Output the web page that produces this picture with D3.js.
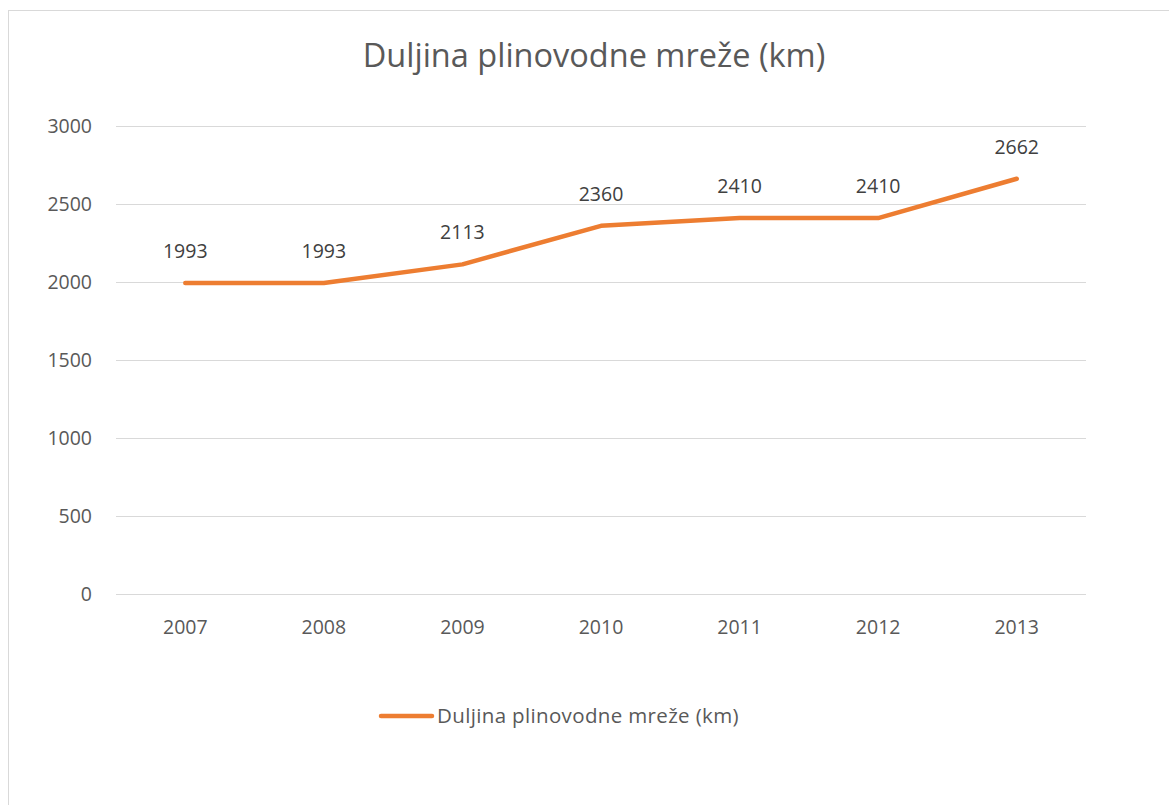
<!DOCTYPE html>
<html>
<head>
<meta charset="utf-8">
<script src="https://cdn.jsdelivr.net/npm/d3@7"></script>
<style>
  body { margin: 0; background: #fff; }
  svg { display: block; font-family: "Open Sans", sans-serif; }
</style>
</head>
<body>
<div id="chart"></div>
<script>
const years = ["2007", "2008", "2009", "2010", "2011", "2012", "2013"];
const lengths = [1993, 1993, 2113, 2360, 2410, 2410, 2662];
const yTicks = [0, 500, 1000, 1500, 2000, 2500, 3000];
const seriesName = "Duljina plinovodne mreže (km)";

const width = 1169, height = 805;
const margin = { top: 126, right: 83, bottom: 211, left: 116 };
const fontSize = "19.5px";

const svg = d3.select("#chart").append("svg")
    .attr("width", width)
    .attr("height", height);

// chart frame
svg.append("rect")
    .attr("x", 8.5).attr("y", 10.5)
    .attr("width", 1200).attr("height", 900)
    .attr("fill", "none")
    .attr("stroke", "#d9d9d9")
    .attr("stroke-width", 1);

svg.append("text")
    .attr("x", 594).attr("y", 67)
    .attr("text-anchor", "middle")
    .attr("fill", "#595959")
    .style("font-size", "32.5px")
    .text(seriesName);

const x = d3.scaleBand()
    .domain(years)
    .range([margin.left, width - margin.right]);

const y = d3.scaleLinear()
    .domain([0, 3000])
    .range([height - margin.bottom, margin.top]);

// gridlines
svg.append("g")
    .selectAll("line")
    .data(yTicks)
    .join("line")
    .attr("x1", margin.left).attr("x2", width - margin.right)
    .attr("y1", d => Math.round(y(d)) + 0.5)
    .attr("y2", d => Math.round(y(d)) + 0.5)
    .attr("stroke", "#d9d9d9")
    .attr("stroke-width", 1);

const yAxis = d3.axisLeft(y).tickValues(yTicks).tickFormat(d3.format("d")).tickSize(0).tickPadding(24);
svg.append("g")
    .attr("transform", `translate(${margin.left},0)`)
    .call(yAxis)
    .call(g => g.select(".domain").remove())
    .call(g => g.selectAll("text").attr("fill", "#595959").style("font-size", fontSize).style("font-family", "Open Sans"));

const xAxis = d3.axisBottom(x).tickSize(0).tickPadding(26);
svg.append("g")
    .attr("transform", `translate(0,${height - margin.bottom})`)
    .call(xAxis)
    .call(g => g.select(".domain").remove())
    .call(g => g.selectAll("text").attr("fill", "#595959").style("font-size", fontSize).style("font-family", "Open Sans"));

const line = d3.line()
    .x((d, i) => x(years[i]) + x.bandwidth() / 2)
    .y(d => y(d));

svg.append("path")
    .datum(lengths)
    .attr("fill", "none")
    .attr("stroke", "#ed7d31")
    .attr("stroke-width", 4.5)
    .attr("stroke-linejoin", "round")
    .attr("stroke-linecap", "round")
    .attr("d", line);

svg.append("g")
    .selectAll("text")
    .data(lengths)
    .join("text")
    .attr("x", (d, i) => x(years[i]) + x.bandwidth() / 2)
    .attr("y", d => y(d) - 25)
    .attr("text-anchor", "middle")
    .attr("fill", "#404040")
    .style("font-size", fontSize)
    .text(d => d);

// legend
const legend = svg.append("g").attr("transform", "translate(381,716)");
legend.append("line")
    .attr("x1", 0).attr("x2", 51)
    .attr("stroke", "#ed7d31")
    .attr("stroke-width", 4.5)
    .attr("stroke-linecap", "round");
legend.append("text")
    .attr("x", 56).attr("y", 0)
    .attr("dy", "0.35em")
    .attr("fill", "#595959")
    .style("font-size", "20.5px")
    .style("letter-spacing", "0.35px")
    .text(seriesName);
</script>
</body>
</html>
